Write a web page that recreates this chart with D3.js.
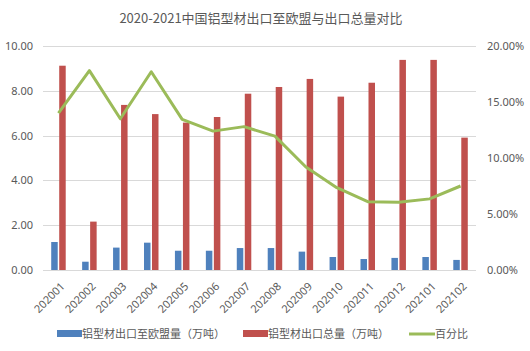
<!DOCTYPE html>
<html>
<head>
<meta charset="utf-8">
<script src="https://cdn.jsdelivr.net/npm/d3@7/dist/d3.min.js"></script>
<style>
    body { margin: 0; background: #fff; }
    svg text { font-family: "Noto Sans CJK SC", "Noto Sans", sans-serif; fill: #595959; }
</style>
</head>
<body>
<div id="chart"></div>
<script>
(function () {
    'use strict';

    var months = ['202001', '202002', '202003', '202004', '202005', '202006', '202007',
        '202008', '202009', '202010', '202011', '202012', '202101', '202102'];
    // 铝型材出口至欧盟量（万吨）
    var euExports = [1.25, 0.37, 1.00, 1.22, 0.86, 0.86, 0.98, 0.98, 0.82, 0.58, 0.49, 0.54, 0.58, 0.45];
    // 铝型材出口总量（万吨）
    var totalExports = [9.12, 2.16, 7.37, 6.96, 6.58, 6.83, 7.87, 8.17, 8.53, 7.74, 8.36, 9.38, 9.38, 5.91];
    // 百分比 (%)
    var shares = [14.0, 17.8, 13.5, 17.7, 13.45, 12.4, 12.8, 11.95, 9.2, 7.35, 6.1, 6.05, 6.35, 7.5];
    var leftTicks = [0, 2, 4, 6, 8, 10];
    var rightTicks = [0, 5, 10, 15, 20];
    var seriesNames = ['铝型材出口至欧盟量（万吨）', '铝型材出口总量（万吨）', '百分比'];
    var colors = ['#4f81bd', '#c0504d', '#9bbb59'];

    var width = 530, height = 351;
    var left = 43, right = 476, top = 46, bottom = 270;

    var svg = d3.select('#chart').append('svg')
        .attr('width', width)
        .attr('height', height);

    svg.append('text')
        .attr('x', 261)
        .attr('y', 23)
        .attr('text-anchor', 'middle')
        .style('font-size', '13px')
        .text('2020-2021中国铝型材出口至欧盟与出口总量对比');

    var x = d3.scaleBand().domain(months).range([left, right]);
    var y = d3.scaleLinear().domain([0, 10]).range([bottom, top]);
    var y2 = d3.scaleLinear().domain([0, 20]).range([bottom, top]);

    // gridlines
    svg.append('g').selectAll('line')
        .data(leftTicks).enter()
        .append('line')
        .attr('x1', left).attr('x2', right)
        .attr('y1', function (d) { return Math.round(y(d)) + 0.5; })
        .attr('y2', function (d) { return Math.round(y(d)) + 0.5; })
        .attr('stroke', '#d9d9d9');

    // left axis
    var yAxis = svg.append('g')
        .attr('transform', 'translate(' + left + ',0)')
        .call(d3.axisLeft(y).tickValues(leftTicks).tickSize(0).tickPadding(10)
            .tickFormat(d3.format('.2f')));
    yAxis.select('.domain').remove();
    yAxis.selectAll('text').style('font-size', '11px').style('font-family', '"Noto Sans", sans-serif');

    // right axis
    var y2Axis = svg.append('g')
        .attr('transform', 'translate(' + right + ',0)')
        .call(d3.axisRight(y2).tickValues(rightTicks).tickSize(0).tickPadding(11)
            .tickFormat(function (d) { return d.toFixed(2) + '%'; }));
    y2Axis.select('.domain').remove();
    y2Axis.selectAll('text').style('font-size', '11px').style('font-family', '"Noto Sans", sans-serif');

    // bars
    var barW = 6.5, gap = 1.5;
    svg.append('g').selectAll('rect')
        .data(euExports).enter()
        .append('rect')
        .attr('x', function (d, i) { return x(months[i]) + x.bandwidth() / 2 - gap / 2 - barW; })
        .attr('y', function (d) { return y(d); })
        .attr('width', barW)
        .attr('height', function (d) { return bottom - y(d); })
        .attr('fill', colors[0]);

    svg.append('g').selectAll('rect')
        .data(totalExports).enter()
        .append('rect')
        .attr('x', function (d, i) { return x(months[i]) + x.bandwidth() / 2 + gap / 2; })
        .attr('y', function (d) { return y(d); })
        .attr('width', barW)
        .attr('height', function (d) { return bottom - y(d); })
        .attr('fill', colors[1]);

    // percentage line
    var line = d3.line()
        .x(function (d, i) { return x(months[i]) + x.bandwidth() / 2; })
        .y(function (d) { return y2(d); });
    svg.append('path')
        .datum(shares)
        .attr('d', line)
        .attr('fill', 'none')
        .attr('stroke', colors[2])
        .attr('stroke-width', 3)
        .attr('stroke-linejoin', 'round');

    // x labels
    var xAxis = svg.append('g')
        .attr('transform', 'translate(0,' + bottom + ')')
        .call(d3.axisBottom(x).tickSize(0).tickPadding(0));
    xAxis.select('.domain').remove();
    xAxis.selectAll('text')
        .style('font-size', '11px')
        .style('font-family', '"Noto Sans", sans-serif')
        .attr('text-anchor', 'end')
        .attr('dy', 0)
        .attr('transform', 'translate(7,17) rotate(-45)');

    // legend
    var legendItems = [
        { x: 57, name: seriesNames[0], color: colors[0], kind: 'rect' },
        { x: 243, name: seriesNames[1], color: colors[1], kind: 'rect' },
        { x: 409, name: seriesNames[2], color: colors[2], kind: 'line' }
    ];
    var legend = svg.selectAll('.legend')
        .data(legendItems).enter()
        .append('g')
        .attr('class', 'legend')
        .attr('transform', function (d) { return 'translate(' + d.x + ',334)'; });
    legend.filter(function (d) { return d.kind === 'rect'; })
        .append('rect')
        .attr('x', 0).attr('y', -4)
        .attr('width', 25).attr('height', 7)
        .attr('fill', function (d) { return d.color; });
    legend.filter(function (d) { return d.kind === 'line'; })
        .append('line')
        .attr('x1', 0).attr('x2', 26)
        .attr('y1', 0).attr('y2', 0)
        .attr('stroke', function (d) { return d.color; })
        .attr('stroke-width', 3);
    legend.append('text')
        .attr('x', function (d) { return d.kind === 'rect' ? 25 : 26; })
        .attr('y', 4)
        .style('font-size', '11px')
        .text(function (d) { return d.name; });
})();
</script>
</body>
</html>
